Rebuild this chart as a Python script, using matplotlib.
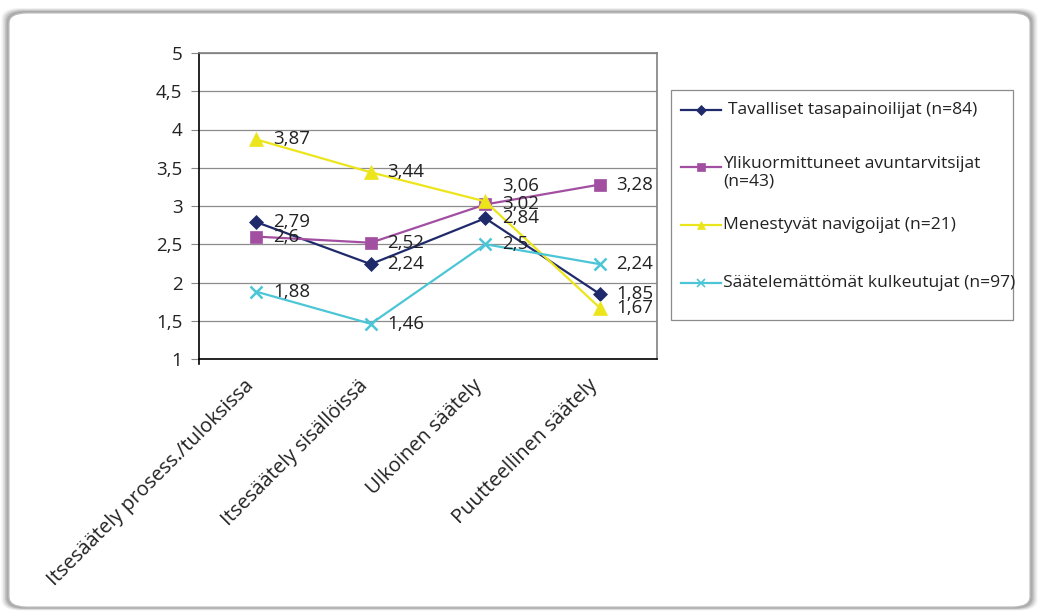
import matplotlib
matplotlib.use("Agg")
import matplotlib.pyplot as plt
from matplotlib.patches import FancyBboxPatch, Rectangle
from matplotlib.lines import Line2D

plt.rcParams["font.family"] = ["Open Sans", "DejaVu Sans"]

W, H = 1039, 613
FS = 13.5
FS_LEG = 12.6
FS_CAT = 14.5

categories = ["Itsesäätely prosess./tuloksissa", "Itsesäätely sisällöissä",
              "Ulkoinen säätely", "Puutteellinen säätely"]
series_names = ["Tavalliset tasapainoilijat (n=84)",
                "Ylikuormittuneet avuntarvitsijat\n(n=43)",
                "Menestyvät navigoijat (n=21)",
                "Säätelemättömät kulkeutujat (n=97)"]
tavalliset = [2.79, 2.24, 2.84, 1.85]
ylikuormittuneet = [2.6, 2.52, 3.02, 3.28]
menestyvat = [3.87, 3.44, 3.06, 1.67]
saatelemattomat = [1.88, 1.46, 2.5, 2.24]

colors = ["#1F2A6B", "#A24FA2", "#EDE51B", "#4CC6D6"]
markers = ["D", "s", "^", "x"]
msizes = [7, 9, 10, 9]


def fx(px):
    return px / W


def fy(py):
    return 1 - py / H


fig = plt.figure(figsize=(W / 100, H / 100), dpi=100)
fig.patch.set_facecolor("white")

# rounded frame with soft grey shadow
for i, a in enumerate([0.10, 0.16, 0.24, 0.34]):
    d = 4 - i
    fig.patches.append(FancyBboxPatch(
        (fx(8 - d * 1.6), fy(608 + d * 0.6)), fx(1023 + d * 3.2), (596 + d * 1.6) / H,
        boxstyle="round,pad=0,rounding_size=0.018", transform=fig.transFigure,
        facecolor="#7a7a7a", edgecolor="none", alpha=a, zorder=0))
fig.patches.append(FancyBboxPatch(
    (fx(9), fy(607)), fx(1021), 594 / H,
    boxstyle="round,pad=0,rounding_size=0.017", transform=fig.transFigure,
    facecolor="white", edgecolor="#bdbdbd", linewidth=0.8, zorder=1))

ax = fig.add_axes([fx(199), fy(359), fx(458), 306 / H])
ax.set_zorder(2)
ax.patch.set_alpha(0)

x = list(range(len(categories)))
all_series = [tavalliset, ylikuormittuneet, menestyvat, saatelemattomat]
for vals, c, m, ms in zip(all_series, colors, markers, msizes):
    ax.plot(x, vals, color=c, linewidth=1.6, marker=m, markersize=ms,
            markeredgewidth=1.8 if m == "x" else 0.5, zorder=3)
    for xi, v in zip(x, vals):
        dy = 11 if (vals is menestyvat and xi == 2) else 0
        ax.annotate(f"{v:g}".replace(".", ","), (xi, v), xytext=(12, dy),
                    textcoords="offset points", ha="left", va="center",
                    fontsize=FS, color="#222222", zorder=4)

ax.set_xlim(-0.5, 3.5)
ax.set_ylim(1, 5)
ax.set_yticks([1, 1.5, 2, 2.5, 3, 3.5, 4, 4.5, 5])
ax.set_yticklabels(["1", "1,5", "2", "2,5", "3", "3,5", "4", "4,5", "5"])
ax.tick_params(axis="y", length=6, width=0.8, color="#888888", labelsize=FS,
               labelcolor="#222222", pad=6)
ax.grid(axis="y", color="#8c8c8c", linewidth=0.9)
ax.set_axisbelow(True)
ax.set_xticks(x)
ax.set_xticklabels([])
ax.tick_params(axis="x", length=0)
for s in ["top", "right"]:
    ax.spines[s].set_color("#808080")
    ax.spines[s].set_linewidth(1.2)
for s in ["left", "bottom"]:
    ax.spines[s].set_color("black")
    ax.spines[s].set_linewidth(1.2)
ax.plot([-0.5, -0.5], [1, 0.94], color="black", lw=1.2, clip_on=False)

for xi, lab in zip(x, categories):
    ax.annotate(lab, (xi, 1), xytext=(-4, -17), textcoords="offset points",
                rotation=45, rotation_mode="anchor", ha="right", va="center",
                fontsize=FS_CAT, color="#222222")

# legend box
fig.patches.append(Rectangle((fx(671), fy(320)), fx(342), 230 / H,
                             transform=fig.transFigure, facecolor="white",
                             edgecolor="#8c8c8c", linewidth=0.9, zorder=2))
leg_y = [110, 167, 225, 283]
for name, c, m, yy in zip(series_names, colors, markers, leg_y):
    fig.lines.append(Line2D([fx(681), fx(721)], [fy(yy), fy(yy)], color=c,
                            linewidth=1.6, transform=fig.transFigure, zorder=3))
    fig.lines.append(Line2D([fx(701)], [fy(yy)], color=c, marker=m,
                            markersize=6 if m != "D" else 5,
                            markeredgewidth=1.2 if m == "x" else 0.5,
                            transform=fig.transFigure, zorder=3))
    tx = 728 if yy == 110 else 723
    if "\n" in name:
        fig.text(fx(tx), fy(yy - 11), name, ha="left", va="top", fontsize=FS_LEG,
                 color="#222222", linespacing=1.1, zorder=3)
    else:
        fig.text(fx(tx), fy(yy), name, ha="left", va="center", fontsize=FS_LEG,
                 color="#222222", zorder=3)

fig.savefig("out.png", dpi=100)
